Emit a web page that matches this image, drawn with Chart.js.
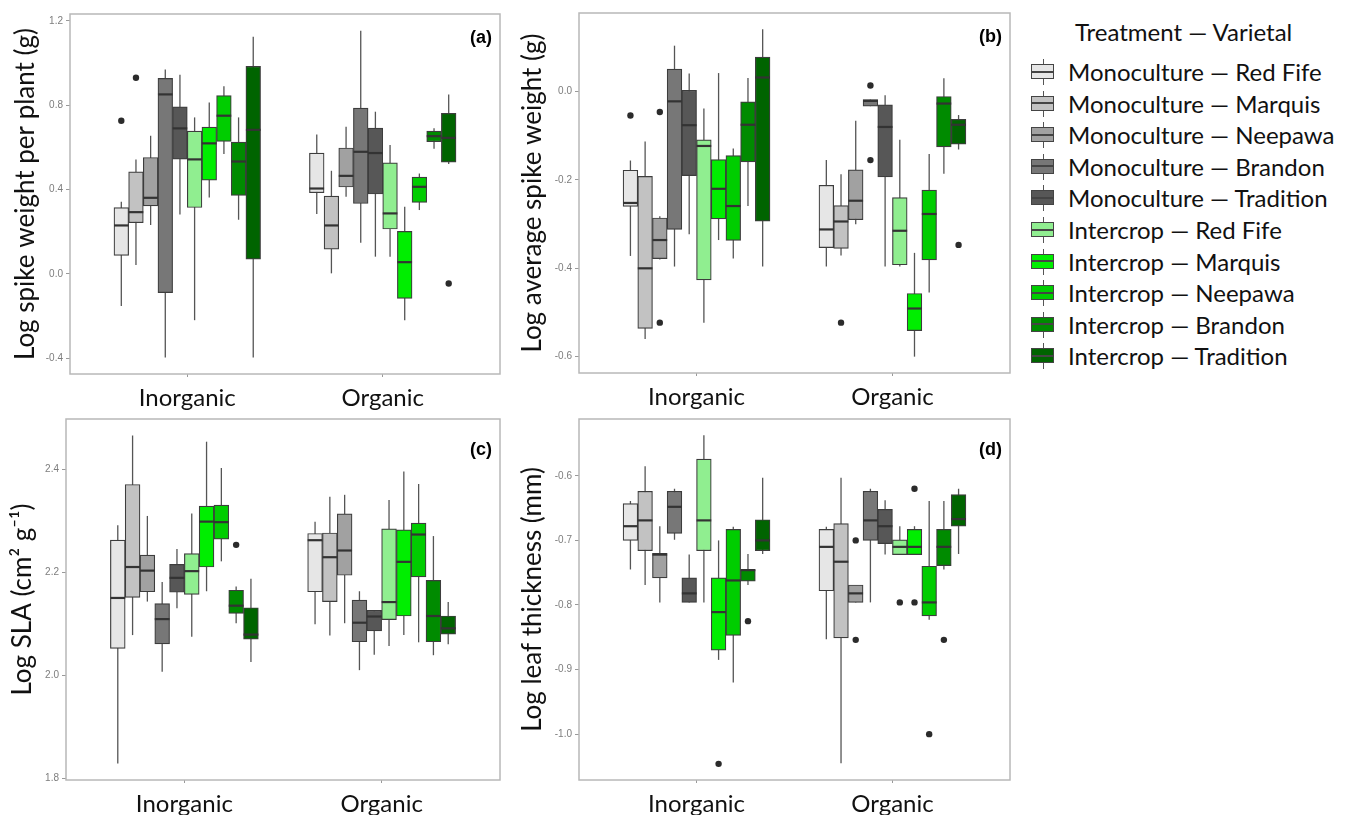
<!DOCTYPE html>
<html lang="en">
<head>
<meta charset="utf-8">
<title>Spike weight, SLA and leaf thickness by treatment and varietal</title>
<script src="https://cdn.jsdelivr.net/npm/chart.js"></script>
<style>
  body { margin: 0; background: #fff; width: 1352px; height: 815px; overflow: hidden; position: relative; font-family: Lato, "Open Sans", sans-serif; color: #111; }
  .panel { position: absolute; }
  .lg-title, .lg-item { position: absolute; font-size: 24px; line-height: 28px; white-space: nowrap; }
  .key { position: absolute; left: -37px; top: 1px; width: 24px; height: 26px; }
  .key .wh { position: absolute; left: 11.5px; top: 0; width: 1.5px; height: 26px; background: #555; }
  .key .bx { position: absolute; left: 0; top: 5px; width: 21px; height: 13px; border: 1.5px solid #444; }
  .key .md { position: absolute; left: 0; top: 5.5px; width: 21px; height: 2px; background: #444; }
</style>
</head>
<body>
<div class="panel" style="left:0;top:0"><canvas id="chartA" width="512" height="412"></canvas></div>
<div class="panel" style="left:509px;top:0"><canvas id="chartB" width="513" height="411"></canvas></div>
<div class="panel" style="left:0;top:405px"><canvas id="chartC" width="512" height="413"></canvas></div>
<div class="panel" style="left:509px;top:405px"><canvas id="chartD" width="513" height="413"></canvas></div>
<div id="legend"></div>

<script>
// categories
const groups = ['Inorganic', 'Organic'];
const treatments = ['Monoculture', 'Intercrop'];
const varietals = ['Red Fife', 'Marquis', 'Neepawa', 'Brandon', 'Tradition'];
const boxColors = ['#e6e6e6', '#c2c2c2', '#a1a1a1', '#777777', '#575757',
                   '#90ee90', '#00ee00', '#00cd00', '#008b00', '#006400'];

// box stats per varietal: [lower whisker, Q1, median, Q3, upper whisker]
// outliers: [group index, varietal index, value]

// (a) log spike weight per plant (g)
const spikePlantInorg = [
  [-0.152, 0.088, 0.230, 0.315, 0.342],
  [0.042, 0.243, 0.293, 0.484, 0.543],
  [0.232, 0.323, 0.361, 0.552, 0.655],
  [-0.396, -0.088, 0.851, 0.927, 0.969],
  [0.282, 0.544, 0.690, 0.792, 0.944],
  [-0.219, 0.315, 0.543, 0.677, 0.742],
  [0.363, 0.445, 0.619, 0.696, 0.813],
  [0.568, 0.628, 0.750, 0.845, 0.890],
  [0.257, 0.372, 0.533, 0.625, 0.742],
  [-0.396, 0.070, 0.683, 0.984, 1.124]
];
const spikePlantOrg = [
  [0.284, 0.385, 0.405, 0.573, 0.661],
  [0.003, 0.118, 0.230, 0.369, 0.489],
  [0.366, 0.412, 0.465, 0.597, 0.698],
  [0.148, 0.334, 0.579, 0.786, 1.153],
  [0.082, 0.379, 0.573, 0.691, 0.769],
  [0.082, 0.213, 0.287, 0.527, 0.611],
  [-0.219, -0.116, 0.056, 0.202, 0.318],
  [0.303, 0.339, 0.413, 0.459, 0.476],
  [0.593, 0.627, 0.653, 0.677, 0.690],
  [0.521, 0.530, 0.645, 0.761, 0.851]
];
const spikePlantOut = [[0, 0, 0.726], [0, 1, 0.930], [1, 9, -0.045]];
const spikePlantTicks = [-0.4, 0.0, 0.4, 0.8, 1.2];

// (b) log average spike weight (g)
const spikeAvgInorg = [
  [-0.372, -0.260, -0.252, -0.178, -0.156],
  [-0.560, -0.536, -0.400, -0.192, -0.113],
  [-0.380, -0.378, -0.336, -0.286, -0.282],
  [-0.396, -0.312, -0.022, 0.051, 0.104],
  [-0.323, -0.190, -0.076, 0.003, 0.041],
  [-0.523, -0.426, -0.123, -0.109, -0.038],
  [-0.336, -0.288, -0.220, -0.154, 0.042],
  [-0.378, -0.337, -0.259, -0.145, -0.129],
  [-0.259, -0.159, -0.075, -0.023, 0.031],
  [-0.396, -0.293, 0.032, 0.078, 0.141]
];
const spikeAvgOrg = [
  [-0.396, -0.353, -0.312, -0.212, -0.155],
  [-0.371, -0.355, -0.294, -0.258, -0.187],
  [-0.300, -0.290, -0.247, -0.177, -0.066],
  [-0.033, -0.033, -0.021, -0.018, -0.018],
  [-0.396, -0.193, -0.080, -0.030, -0.008],
  [-0.396, -0.392, -0.315, -0.240, -0.109],
  [-0.600, -0.541, -0.491, -0.457, -0.365],
  [-0.455, -0.381, -0.277, -0.223, -0.141],
  [-0.186, -0.125, -0.027, -0.011, 0.030],
  [-0.131, -0.119, -0.075, -0.063, -0.053]
];
const spikeAvgOut = [[0, 0, -0.054], [0, 2, -0.046], [0, 2, -0.523], [1, 1, -0.523],
                     [1, 3, 0.014], [1, 3, -0.155], [1, 9, -0.347]];
const spikeAvgTicks = [-0.6, -0.4, -0.2, 0.0];

// (c) log SLA
const slaInorg = [
  [1.829, 2.052, 2.150, 2.262, 2.291],
  [2.078, 2.151, 2.210, 2.370, 2.465],
  [2.143, 2.162, 2.203, 2.233, 2.309],
  [2.007, 2.061, 2.109, 2.139, 2.181],
  [2.130, 2.161, 2.189, 2.215, 2.245],
  [2.075, 2.157, 2.202, 2.236, 2.314],
  [2.163, 2.210, 2.298, 2.328, 2.453],
  [2.221, 2.264, 2.297, 2.330, 2.402],
  [2.101, 2.120, 2.135, 2.165, 2.172],
  [2.026, 2.070, 2.079, 2.131, 2.187]
];
const slaOrg = [
  [2.099, 2.162, 2.262, 2.275, 2.298],
  [2.077, 2.143, 2.229, 2.276, 2.346],
  [2.101, 2.194, 2.242, 2.313, 2.350],
  [2.010, 2.065, 2.102, 2.146, 2.163],
  [2.040, 2.086, 2.114, 2.126, 2.126],
  [2.057, 2.108, 2.142, 2.284, 2.340],
  [2.078, 2.115, 2.220, 2.282, 2.395],
  [2.064, 2.191, 2.273, 2.295, 2.371],
  [2.039, 2.065, 2.115, 2.184, 2.270],
  [2.060, 2.080, 2.091, 2.115, 2.142]
];
const slaOut = [[0, 8, 2.253]];
const slaTicks = [1.8, 2.0, 2.2, 2.4];

// (d) log leaf thickness (mm)
const thickInorg = [
  [-0.745, -0.700, -0.678, -0.643, -0.639],
  [-0.769, -0.716, -0.669, -0.624, -0.585],
  [-0.796, -0.758, -0.722, -0.720, -0.678],
  [-0.699, -0.689, -0.648, -0.624, -0.620],
  [-0.796, -0.796, -0.782, -0.758, -0.722],
  [-0.796, -0.716, -0.669, -0.574, -0.537],
  [-0.885, -0.870, -0.811, -0.758, -0.700],
  [-0.920, -0.847, -0.762, -0.683, -0.679],
  [-0.769, -0.763, -0.746, -0.745, -0.721],
  [-0.721, -0.716, -0.700, -0.668, -0.603]
];
const thickOrg = [
  [-0.853, -0.778, -0.710, -0.683, -0.679],
  [-1.045, -0.851, -0.733, -0.674, -0.603],
  [-0.796, -0.796, -0.782, -0.769, -0.769],
  [-0.796, -0.700, -0.669, -0.624, -0.620],
  [-0.722, -0.705, -0.678, -0.652, -0.638],
  [-0.722, -0.722, -0.710, -0.699, -0.678],
  [-0.722, -0.722, -0.710, -0.683, -0.678],
  [-0.823, -0.817, -0.796, -0.740, -0.639],
  [-0.745, -0.739, -0.710, -0.683, -0.639],
  [-0.721, -0.678, -0.667, -0.629, -0.620]
];
const thickOut = [[0, 6, -1.046], [0, 8, -0.825], [1, 2, -0.700], [1, 2, -0.854], [1, 5, -0.796],
                  [1, 6, -0.620], [1, 6, -0.796], [1, 7, -1.000], [1, 8, -0.854]];
const thickTicks = [-1.0, -0.9, -0.8, -0.7, -0.6];

const seriesLabels = [];
treatments.forEach(t => varietals.forEach(v => seriesLabels.push(t + ' \u2014 ' + v)));

// dodge: ten boxes side by side, 0.75 of a category unit wide
const DODGE = 0.075;
const pos = (g, i) => (g + 1) + (i - 4.5) * DODGE;

// whiskers under the boxes, medians + panel tag on top
function boxPlugin(tag, tagDy) {
  return {
    id: 'boxes',
    beforeDatasetsDraw(chart) {
      const {ctx, chartArea: a, scales: {y}} = chart;
      ctx.save();
      ctx.strokeStyle = '#b8b8b8';
      ctx.lineWidth = 1.5;
      ctx.strokeRect(a.left, a.top, a.width, a.height);
      ctx.strokeStyle = '#555';
      ctx.lineWidth = 1.3;
      chart.data.datasets.forEach((ds, i) => {
        if (!ds.stats) return;
        chart.getDatasetMeta(i).data.forEach((el, j) => {
          const s = ds.stats[j];
          ctx.beginPath();
          ctx.moveTo(el.x, y.getPixelForValue(s[0]));
          ctx.lineTo(el.x, y.getPixelForValue(s[4]));
          ctx.stroke();
        });
      });
      ctx.restore();
    },
    afterDatasetsDraw(chart) {
      const {ctx, chartArea: a, scales: {y}} = chart;
      ctx.save();
      ctx.strokeStyle = '#333';
      ctx.lineWidth = 2.2;
      chart.data.datasets.forEach((ds, i) => {
        if (!ds.stats) return;
        chart.getDatasetMeta(i).data.forEach((el, j) => {
          const py = y.getPixelForValue(ds.stats[j][2]);
          ctx.beginPath();
          ctx.moveTo(el.x - el.width / 2, py);
          ctx.lineTo(el.x + el.width / 2, py);
          ctx.stroke();
        });
      });
      ctx.fillStyle = '#000';
      ctx.font = 'bold 18px "Liberation Sans", Arial, sans-serif';
      ctx.textAlign = 'right';
      ctx.textBaseline = 'middle';
      ctx.fillText(tag, a.right - 8, a.top + tagDy);
      ctx.restore();
    }
  };
}

function makeChart(id, p) {
  const datasets = [{
    type: 'scatter',
    order: -1,
    data: p.outliers.map(([g, v, val]) => ({x: pos(g, v), y: val})),
    pointRadius: 3.2,
    pointBackgroundColor: '#2b2b2b',
    pointBorderWidth: 0
  }];
  seriesLabels.forEach((label, i) => {
    const st = [p.inorg[i], p.org[i]];
    datasets.push({
      type: 'bar',
      label,
      grouped: false,
      barPercentage: 1,
      categoryPercentage: 1,
      backgroundColor: boxColors[i],
      borderColor: '#3d3d3d',
      borderWidth: 1.2,
      borderSkipped: false,
      stats: st,
      data: st.map((s, g) => ({x: pos(g, i), y: [s[1], s[3]]}))
    });
  });

  return new Chart(document.getElementById(id), {
    type: 'bar',
    data: {datasets},
    plugins: [boxPlugin(p.tag, p.tagDy)],
    options: {
      responsive: false,
      animation: false,
      events: [],
      layout: {padding: {left: 0, top: p.padTop, right: 12, bottom: 0}},
      plugins: {legend: {display: false}, tooltip: {enabled: false}},
      scales: {
        x: {
          type: 'linear',
          min: 0.4,
          max: 2.6,
          offset: false,
          border: {display: false},
          grid: {offset: false, drawOnChartArea: false, tickLength: 3, color: '#999'},
          afterBuildTicks: s => { s.ticks = [{value: 1}, {value: 2}]; },
          afterFit: s => { s.height = 38; },
          ticks: {
            padding: 7,
            color: '#111',
            font: {family: 'Lato', size: 24},
            callback: v => groups[v - 1]
          }
        },
        y: {
          min: p.yMin,
          max: p.yMax,
          beginAtZero: false,
          border: {display: false},
          grid: {drawOnChartArea: false, tickLength: 4, color: '#999'},
          afterBuildTicks: s => { s.ticks = p.ticks.map(v => ({value: v})); },
          afterFit: s => { s.width = p.axisW; },
          ticks: {
            padding: 3,
            color: '#7d7d7d',
            font: {family: '"Liberation Sans", Arial', size: 10},
            callback: v => v.toFixed(1)
          },
          title: {
            display: true,
            text: p.title,
            color: '#111',
            font: {family: 'Lato', size: 26},
            padding: {top: p.titlePad, bottom: 0}
          }
        }
      }
    }
  });
}

makeChart('chartA', {inorg: spikePlantInorg, org: spikePlantOrg, outliers: spikePlantOut,
  ticks: spikePlantTicks, yMin: -0.474, yMax: 1.232, title: 'Log spike weight per plant (g)',
  tag: '(a)', tagDy: 24, padTop: 14, axisW: 70, titlePad: 10});
makeChart('chartB', {inorg: spikeAvgInorg, org: spikeAvgOrg, outliers: spikeAvgOut,
  ticks: spikeAvgTicks, yMin: -0.637, yMax: 0.178, title: 'Log average spike weight (g)',
  tag: '(b)', tagDy: 24, padTop: 13, axisW: 70, titlePad: 8});
makeChart('chartC', {inorg: slaInorg, org: slaOrg, outliers: slaOut,
  ticks: slaTicks, yMin: 1.797, yMax: 2.497, title: 'Log SLA (cm\u00b2 g\u207b\u00b9)',
  tag: '(c)', tagDy: 31, padTop: 14, axisW: 66, titlePad: 7});
makeChart('chartD', {inorg: thickInorg, org: thickOrg, outliers: thickOut,
  ticks: thickTicks, yMin: -1.071, yMax: -0.512, title: 'Log leaf thickness (mm)',
  tag: '(d)', tagDy: 31, padTop: 14, axisW: 70, titlePad: 8});

// legend
const legend = document.getElementById('legend');
const lgTitle = document.createElement('div');
lgTitle.className = 'lg-title';
lgTitle.style.left = '1075px';
lgTitle.style.top = '18px';
lgTitle.textContent = 'Treatment \u2014 Varietal';
legend.appendChild(lgTitle);
seriesLabels.forEach((label, i) => {
  const item = document.createElement('div');
  item.className = 'lg-item';
  item.style.left = '1068px';
  item.style.top = (58 + i * 31.6) + 'px';
  item.innerHTML = '<span class="key"><span class="wh"></span><span class="bx" style="background:' +
    boxColors[i] + '"><span class="md"></span></span></span>';
  item.appendChild(document.createTextNode(label));
  legend.appendChild(item);
});
</script>
</body>
</html>
